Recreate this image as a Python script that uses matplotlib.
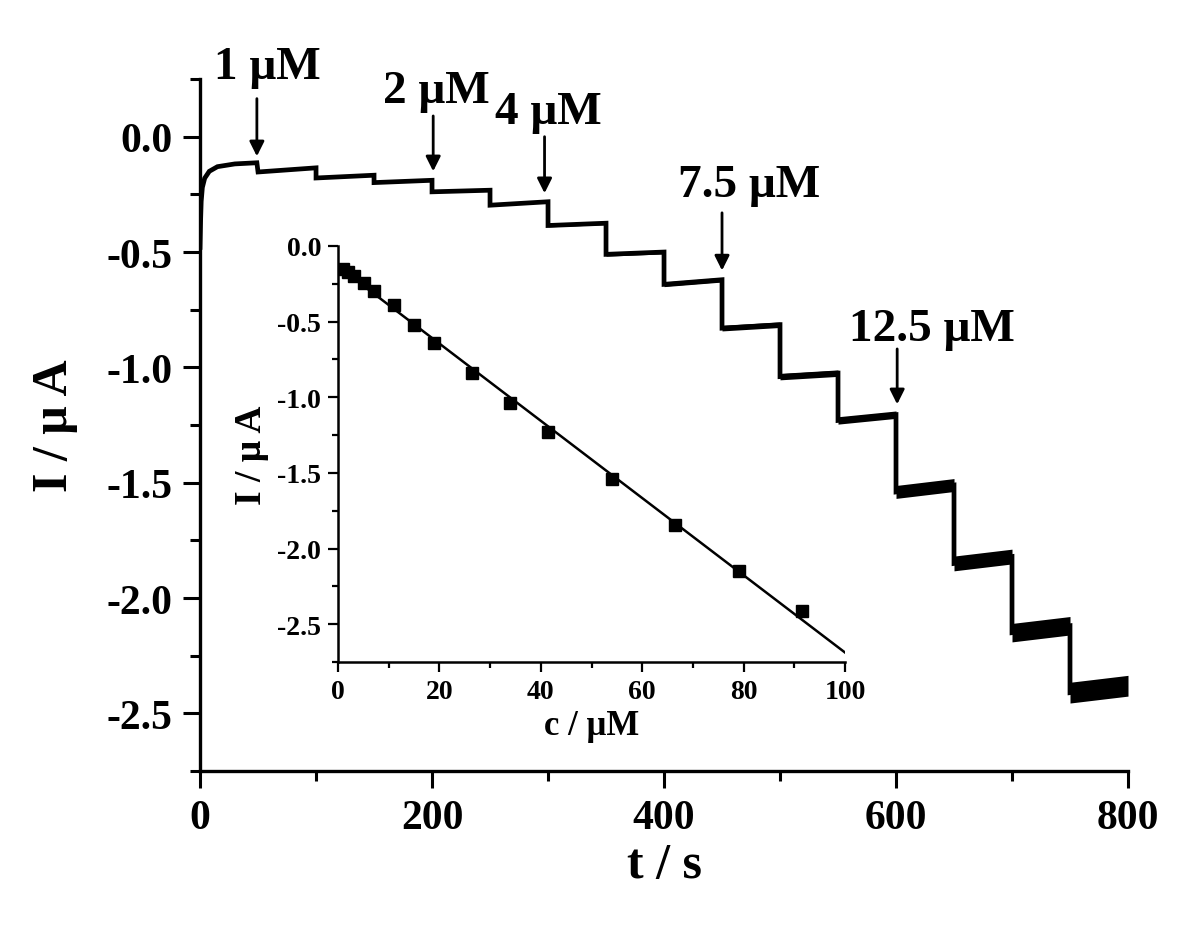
import numpy as np
import matplotlib
matplotlib.use('Agg')
import matplotlib.pyplot as plt
from matplotlib.ticker import MultipleLocator, FormatStrFormatter

plt.rcParams['font.family'] = ['Liberation Serif', 'DejaVu Serif']
plt.rcParams['font.weight'] = 'bold'
plt.rcParams['axes.unicode_minus'] = False

# 시작 구간 (0 ~ 50 s) 전류 상승
t_start = [0, 0.5, 1, 2, 4, 8, 15, 30, 49]
i_start = [-0.48, -0.36, -0.28, -0.22, -0.18, -0.15, -0.13, -0.118, -0.113]

# 50 s 간격 계단 구간: 시작/끝 전류, 잡음 폭
step_t0 = [50, 100, 150, 200, 250, 300, 350, 400, 450, 500, 550, 600, 650, 700, 750]
step_t1 = [100, 150, 200, 250, 300, 350, 400, 450, 500, 550, 600, 650, 700, 750, 800]
level_start = [-0.153, -0.179, -0.199, -0.239, -0.297, -0.385, -0.51, -0.64,
               -0.83, -1.04, -1.23, -1.54, -1.85, -2.15, -2.41]
level_end = [-0.135, -0.167, -0.189, -0.232, -0.282, -0.375, -0.50, -0.62,
             -0.815, -1.025, -1.205, -1.51, -1.82, -2.12, -2.38]
noise = [0.004, 0.004, 0.004, 0.004, 0.004, 0.006, 0.008, 0.01,
         0.012, 0.014, 0.016, 0.028, 0.032, 0.04, 0.045]

# 화살표 라벨
arrow_text = ['1 μM', '2 μM', '4 μM', '7.5 μM', '12.5 μM']
arrow_t = [49, 201, 297, 450, 601]
arrow_tip = [-0.085, -0.15, -0.245, -0.58, -1.16]
arrow_tail = [0.165, 0.09, 0.0, -0.33, -0.92]
text_t = [58, 204, 300, 473, 631]
text_y = [0.255, 0.15, 0.06, -0.255, -0.88]

# 삽입 그래프: 검량선
conc = [1.05, 2.0, 3.2, 5.2, 7.1, 11.0, 15.05, 19.0, 26.5, 34.0, 41.5,
        54.0, 66.5, 79.0, 91.5]
current = [-0.152, -0.174, -0.20, -0.246, -0.30, -0.39, -0.52, -0.64,
           -0.84, -1.04, -1.23, -1.54, -1.845, -2.15, -2.41]

fig = plt.figure(figsize=(12, 9.37), dpi=100)
ax = fig.add_axes([0.1667, 0.176, 0.7733, 0.7386])

# 전류 곡선
t_line = list(t_start)
i_line = list(i_start)
for a, b, s, e in zip(step_t0, step_t1, level_start, level_end):
    t_line += [a, b]
    i_line += [s, e]
ax.plot(t_line, i_line, color='k', lw=3.4, solid_joinstyle='miter')
for a, b, s, e, n in zip(step_t0, step_t1, level_start, level_end, noise):
    ax.fill_between([a, b], [s - n, e - n], [s + n, e + n], color='k', lw=0)

ax.set_xlim(0, 800)
ax.set_ylim(-2.75, 0.25)
ax.spines['top'].set_visible(False)
ax.spines['right'].set_visible(False)
for sp in ['left', 'bottom']:
    ax.spines[sp].set_linewidth(2.4)
ax.xaxis.set_major_locator(MultipleLocator(200))
ax.xaxis.set_minor_locator(MultipleLocator(100))
ax.yaxis.set_major_locator(MultipleLocator(0.5))
ax.yaxis.set_minor_locator(MultipleLocator(0.25))
ax.yaxis.set_major_formatter(FormatStrFormatter('%.1f'))
ax.tick_params(which='major', length=12, width=2.2, labelsize=30, pad=8)
ax.tick_params(which='minor', length=7, width=2.2)
ax.set_xlabel('t / s', fontsize=36, fontweight='bold', labelpad=4)
ax.set_ylabel('I / μ A', fontsize=36, fontweight='bold', labelpad=20)

for lab, x, tip, tail, tx, ty in zip(arrow_text, arrow_t, arrow_tip, arrow_tail, text_t, text_y):
    ax.annotate('', xy=(x, tip), xytext=(x, tail),
                arrowprops=dict(arrowstyle='-|>', color='k', lw=2,
                                mutation_scale=22, shrinkA=0, shrinkB=0),
                annotation_clip=False)
    ax.text(tx, ty, lab, fontsize=34, fontweight='bold', ha='center',
            va='baseline', clip_on=False)

# 삽입 그래프
ins = fig.add_axes([0.2817, 0.2924, 0.4225, 0.444])
ins.patch.set_alpha(0)
fit = np.polyfit(conc, current, 1)
xs = np.linspace(0, 100, 50)
ins.plot(xs, np.poly1d(fit)(xs), color='k', lw=1.8)
ins.plot(conc, current, 's', color='k', markersize=9)
ins.set_xlim(0, 100)
ins.set_ylim(-2.75, 0)
ins.spines['top'].set_visible(False)
ins.spines['right'].set_visible(False)
for sp in ['left', 'bottom']:
    ins.spines[sp].set_linewidth(1.8)
ins.xaxis.set_major_locator(MultipleLocator(20))
ins.xaxis.set_minor_locator(MultipleLocator(10))
ins.yaxis.set_major_locator(MultipleLocator(0.5))
ins.yaxis.set_minor_locator(MultipleLocator(0.25))
ins.yaxis.set_major_formatter(FormatStrFormatter('%.1f'))
ins.tick_params(which='major', length=7, width=1.6, labelsize=20, pad=5)
ins.tick_params(which='minor', length=4.5, width=1.6)
ins.set_xlabel('c / μM', fontsize=25, fontweight='bold', labelpad=4)
ins.set_ylabel('I / μ A', fontsize=27, fontweight='bold', labelpad=6)

fig.savefig('out.png', dpi=100)
